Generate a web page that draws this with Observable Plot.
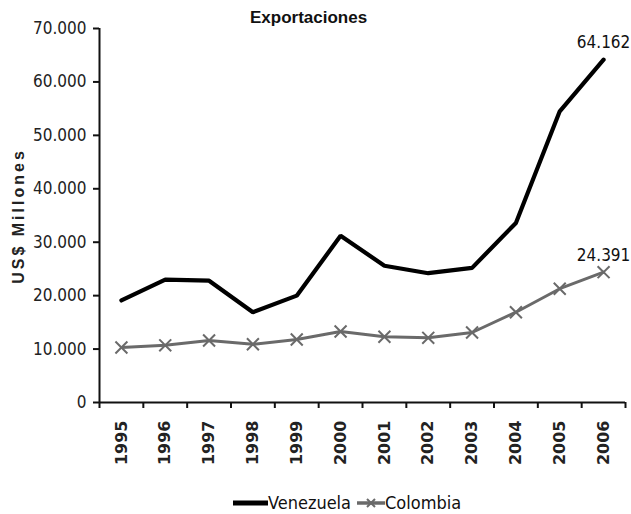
<!DOCTYPE html>
<html><head><meta charset="utf-8">
<script src="https://cdn.jsdelivr.net/npm/d3@7"></script>
<script src="https://cdn.jsdelivr.net/npm/@observablehq/plot@0.6"></script>
<style>
body{margin:0;background:#fff;}
#wrap{position:relative;width:631px;height:514px;background:#fff;overflow:hidden;}
#title{position:absolute;top:8px;left:250px;white-space:nowrap;font:bold 17px "Liberation Sans",Arial,sans-serif;color:#111;}
#ylab{position:absolute;left:19px;top:216px;transform:translate(-50%,-50%) rotate(-90deg);white-space:nowrap;font:bold 16px "Liberation Sans",Arial,sans-serif;letter-spacing:3px;color:#222;}
#legend{position:absolute;top:492px;left:233px;display:flex;align-items:center;font:18px "DejaVu Sans Condensed","Liberation Sans",sans-serif;color:#111;}
#legend .it{display:flex;align-items:center;margin-right:6px;}
#legend svg{display:block;}
</style></head><body><div id="wrap"></div>
<script>
const years = [1995,1996,1997,1998,1999,2000,2001,2002,2003,2004,2005,2006];
const venezuela = [19100,23000,22800,16900,20000,31200,25600,24200,25200,33600,54500,64162];
const colombia = [10300,10700,11600,10900,11800,13300,12300,12100,13100,16900,21300,24391];
const yTicks = [0,10000,20000,30000,40000,50000,60000,70000];
const seriesNames = ["Venezuela","Colombia"];
const seriesColors = ["#000000","#6a6a6a"];
const endLabels = ["64.162","24.391"];
const titleText = "Exportaciones";
const yLabelText = "US$ Millones";

const fmt = d3.formatLocale({decimal:",", thousands:".", grouping:[3], currency:["$",""]}).format(",d");
const vzRows = years.map((y,i)=>({year:y, value:venezuela[i]}));
const coRows = years.map((y,i)=>({year:y, value:colombia[i]}));
const lastRows = [
  {year:years[years.length-1], value:venezuela[venezuela.length-1], label:endLabels[0]},
  {year:years[years.length-1], value:colombia[colombia.length-1], label:endLabels[1]}
];
const bounds = [...years.map(y=>y-0.5), years[years.length-1]+0.5];
const narrow = "'DejaVu Sans Condensed','Liberation Sans Narrow',sans-serif";

const chart = Plot.plot({
  width:631, height:480,
  marginTop:28, marginBottom:78, marginLeft:99, marginRight:6,
  style:{background:"#fff", color:"#111", fontFamily:narrow},
  x:{domain:[bounds[0], bounds[bounds.length-1]], axis:null},
  y:{domain:[0,70000], axis:null},
  marks:[
    Plot.ruleY([0], {stroke:"#111", strokeWidth:2}),
    Plot.ruleX([bounds[0]], {stroke:"#111", strokeWidth:2}),
    Plot.axisX({ticks:bounds, tickSize:6, tickFormat:()=>"", strokeWidth:2, stroke:"#111", label:null}),
    Plot.axisX({ticks:years, tickSize:0, tickRotate:-90, tickPadding:18, tickFormat:d=>`${d}`,
      fontSize:16, fontWeight:"bold", fontFamily:"'DejaVu Sans',sans-serif", fill:"#222", label:null}),
    Plot.axisY({ticks:yTicks, tickSize:6, tickPadding:7, tickFormat:fmt, fontSize:17, fontFamily:narrow,
      fill:"#222", stroke:"#111", strokeWidth:2, label:null}),
    Plot.line(vzRows, {x:"year", y:"value", stroke:seriesColors[0], strokeWidth:4.2, strokeLinejoin:"miter"}),
    Plot.line(coRows, {x:"year", y:"value", stroke:seriesColors[1], strokeWidth:3}),
    Plot.dot(coRows, {x:"year", y:"value", symbol:"times", r:5.5, stroke:seriesColors[1], strokeWidth:2}),
    Plot.text(lastRows, {x:"year", y:"value", text:"label", dy:-17, fontSize:17, fontFamily:narrow, fill:"#111"})
  ]
});
const wrap = document.getElementById("wrap");
wrap.appendChild(chart);
const t = document.createElement("div"); t.id="title"; t.textContent = titleText; wrap.appendChild(t);
const yl = document.createElement("div"); yl.id="ylab"; yl.textContent = yLabelText; wrap.appendChild(yl);
const lg = document.createElement("div"); lg.id="legend";
seriesNames.forEach((n,i)=>{
  const it = document.createElement("div"); it.className="it";
  const markerSvg = i===1 ? `<path d="M10,-4 L18,4 M10,4 L18,-4" stroke="${seriesColors[i]}" stroke-width="2" transform="translate(0,8)"/>` : "";
  it.innerHTML = `<svg width="${i===0?35:28}" height="16"><line x1="0" y1="8" x2="${i===0?35:28}" y2="8" stroke="${seriesColors[i]}" stroke-width="${i===0?5:3.5}"/>${markerSvg}</svg><span></span>`;
  it.querySelector("span").textContent = n;
  lg.appendChild(it);
});
wrap.appendChild(lg);
</script></body></html>
